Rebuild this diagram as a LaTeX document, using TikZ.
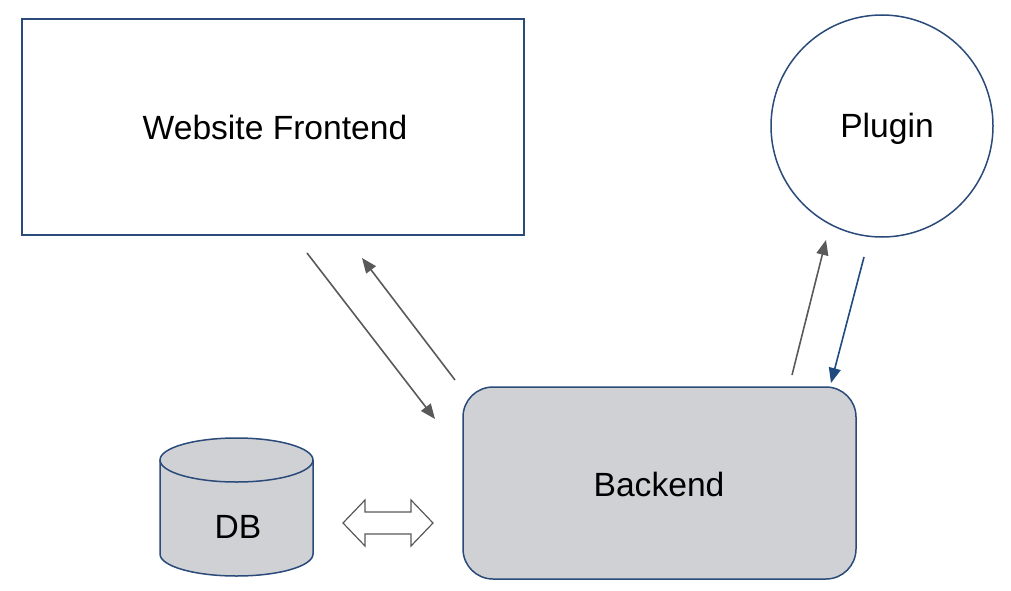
\documentclass[tikz,border=0pt]{standalone}
\usepackage{fontspec}
\setmainfont{Liberation Sans}
\usetikzlibrary{arrows.meta}
\definecolor{edgeblue}{HTML}{2A4A7A}
\definecolor{darrow}{HTML}{1F4B7F}
\definecolor{gline}{HTML}{595959}
\definecolor{boxfill}{HTML}{D0D1D5}
\tikzset{
  shapeline/.style={draw=edgeblue, line width=1.5pt},
  lbl/.style={font=\fontsize{33.6}{38}\selectfont, text=black},
  conn/.style={draw=gline, line width=1.6pt, -{Triangle[length=15pt,width=12pt]}},
  connb/.style={draw=darrow, line width=1.6pt, -{Triangle[length=15pt,width=12pt]}},
}
\begin{document}
\begin{tikzpicture}[x=1pt,y=-1pt]
\useasboundingbox (0,0) rectangle (1011,591);
% Website Frontend
\node[shapeline, rectangle, minimum width=502pt, minimum height=216pt, inner sep=0pt] (fe) at (273,127) {};
\node[lbl] (fetxt) at (275,127) {Website Frontend};
% Plugin
\node[shapeline, circle, minimum size=222pt, inner sep=0pt] (pl) at (882,126) {};
\node[lbl] (pltxt) at (887,129) {Plugin};
% Backend
\node[shapeline, fill=boxfill, rectangle, rounded corners=30pt, minimum width=393pt, minimum height=192pt, inner sep=0pt] (be) at (659.5,483) {};
\node[lbl] (betxt) at (659,484) {Backend};
% DB cylinder
\fill[boxfill] (160,460) -- (160,554) arc[start angle=180,end angle=360,x radius=76.5pt,y radius=22pt] -- (313,460) arc[start angle=0,end angle=180,x radius=76.5pt,y radius=22pt] -- cycle;
\draw[shapeline] (160,460) -- (160,554) arc[start angle=180,end angle=360,x radius=76.5pt,y radius=22pt] -- (313,460);
\draw[shapeline] (236.5,460) ellipse[x radius=76.5pt,y radius=22pt];
\node[lbl] (db) at (238,527) {DB};
% double arrow
\draw[draw=gline, line width=1.2pt, fill=white, line join=miter] (343,523) -- (365,500) -- (365,512) -- (411,512) -- (411,500) -- (433,523) -- (411,546) -- (411,534) -- (365,534) -- (365,546) -- cycle;
% connectors
\coordinate (a1s) at (307,253);
\coordinate (a1e) at (435,419);
\coordinate (a2s) at (455,380);
\coordinate (a2e) at (362,258);
\coordinate (a3s) at (792,375);
\coordinate (a3e) at (826,240);
\coordinate (a4s) at (864,257);
\coordinate (a4e) at (831,383);
\draw[conn] (a1s) -- (a1e);
\draw[conn] (a2s) -- (a2e);
\draw[conn] (a3s) -- (a3e);
\draw[connb] (a4s) -- (a4e);
\end{tikzpicture}
\end{document}
